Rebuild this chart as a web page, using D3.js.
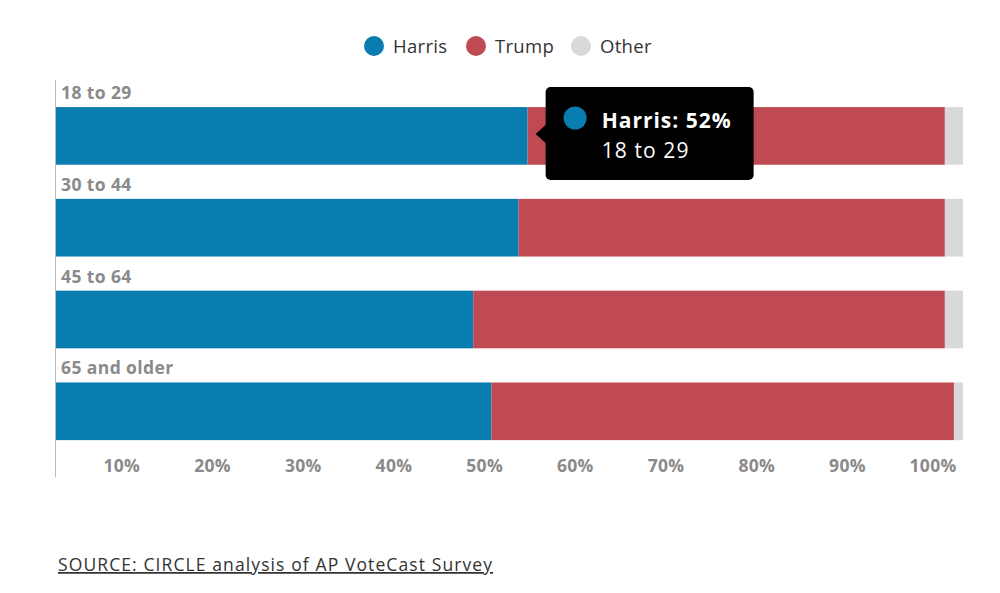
<!DOCTYPE html>
<html>
<head>
<meta charset="utf-8">
<script src="https://cdn.jsdelivr.net/npm/d3@7"></script>
<style>
  html, body { margin: 0; padding: 0; background: #fff; }
  svg { display: block; font-family: "Open Sans", sans-serif; }
</style>
</head>
<body>
<svg id="chart" width="1000" height="593"></svg>
<script>
const categories = ["18 to 29", "30 to 44", "45 to 64", "65 and older"];
const seriesNames = ["Harris", "Trump", "Other"];
const harris = [52, 51, 46, 48];
const trump = [46, 47, 52, 51];
const other = [2, 2, 2, 1];
const tickValues = [10, 20, 30, 40, 50, 60, 70, 80, 90, 100];
const colors = ["#0a7db0", "#bf4a54", "#d9d9d9"];
const sourceText = "SOURCE: CIRCLE analysis of AP VoteCast Survey";
const tooltip = { series: "Harris", category: "18 to 29" };

const rows = categories.map((c, i) => ({ cat: c, Harris: harris[i], Trump: trump[i], Other: other[i] }));
const stack = d3.stack().keys(seriesNames)(rows);

const svg = d3.select("#chart");
const x = d3.scaleLinear().domain([0, 100]).range([56, 963]);
const y = d3.scaleBand().domain(categories).range([90, 457.2]).paddingInner(0.372).paddingOuter(0.186);
const color = d3.scaleOrdinal().domain(seriesNames).range(colors);

// Bars
svg.append("g").selectAll("g").data(stack).join("g")
  .attr("fill", d => color(d.key))
  .selectAll("rect").data(d => d).join("rect")
  .attr("x", d => x(d[0]))
  .attr("width", d => x(d[1]) - x(d[0]))
  .attr("y", d => y(d.data.cat))
  .attr("height", y.bandwidth());

// Category labels
svg.append("g").selectAll("text").data(categories).join("text")
  .attr("x", 61)
  .attr("y", d => y(d) - 8)
  .attr("fill", "#8a8a8a")
  .attr("font-size", 17.5)
  .attr("font-weight", 700)
  .attr("letter-spacing", 0.4)
  .text(d => d);

// Vertical axis line
svg.append("line")
  .attr("x1", 55.5).attr("x2", 55.5)
  .attr("y1", 80).attr("y2", 477)
  .attr("stroke", "#bbbbbb").attr("stroke-width", 1);

// X axis labels
const xAxis = d3.axisBottom(x).tickValues(tickValues).tickFormat(d => d + "%").tickSize(0).tickPadding(0);
const gx = svg.append("g").attr("transform", "translate(0,458)").call(xAxis);
gx.select(".domain").remove();
gx.selectAll("text")
  .attr("text-anchor", "end")
  .attr("dx", -7)
  .attr("dy", 0)
  .attr("y", 13.5)
  .attr("fill", "#8a8a8a")
  .attr("font-size", 17.5)
  .attr("font-weight", 700)
  .attr("letter-spacing", 0.3)
  .attr("font-family", "Open Sans, sans-serif");

// Legend
const legendPos = [374, 476, 581];
const lg = svg.append("g").selectAll("g").data(seriesNames).join("g")
  .attr("transform", (d, i) => `translate(${legendPos[i]},46)`);
lg.append("circle").attr("r", 10).attr("fill", d => color(d));
lg.append("text").attr("x", 19).attr("y", 6.5)
  .attr("font-size", 18.5).attr("fill", "#333").attr("letter-spacing", 0.3).text(d => d);

// Tooltip
const ti = categories.indexOf(tooltip.category);
const tval = harris[ti];
const tipX = x(tval) + 8;
const boxX = tipX + 10, boxY = 87, boxW = 208, boxH = 93;
const tipY = y(tooltip.category) + y.bandwidth() / 2 - 2;
const tt = svg.append("g");
tt.append("rect").attr("x", boxX).attr("y", boxY).attr("width", boxW).attr("height", boxH)
  .attr("rx", 5).attr("fill", "#000");
tt.append("path")
  .attr("d", `M${tipX},${tipY} L${boxX + 1},${tipY - 10} L${boxX + 1},${tipY + 10} Z`)
  .attr("fill", "#000");
tt.append("circle").attr("cx", boxX + 29.5).attr("cy", 118).attr("r", 11.5).attr("fill", color(tooltip.series));
tt.append("text").attr("x", boxX + 56).attr("y", 128)
  .attr("fill", "#fff").attr("font-size", 21).attr("font-weight", 700).attr("letter-spacing", 1)
  .text(`${tooltip.series}: ${tval}%`);
tt.append("text").attr("x", boxX + 56).attr("y", 158)
  .attr("fill", "#fff").attr("font-size", 21).attr("letter-spacing", 1.1)
  .text(tooltip.category);

// Source
svg.append("text").attr("x", 58).attr("y", 571)
  .attr("font-size", 17.5).attr("fill", "#333")
  .attr("letter-spacing", 1.1)
  .attr("text-decoration", "underline")
  .text(sourceText);
</script>
</body>
</html>
